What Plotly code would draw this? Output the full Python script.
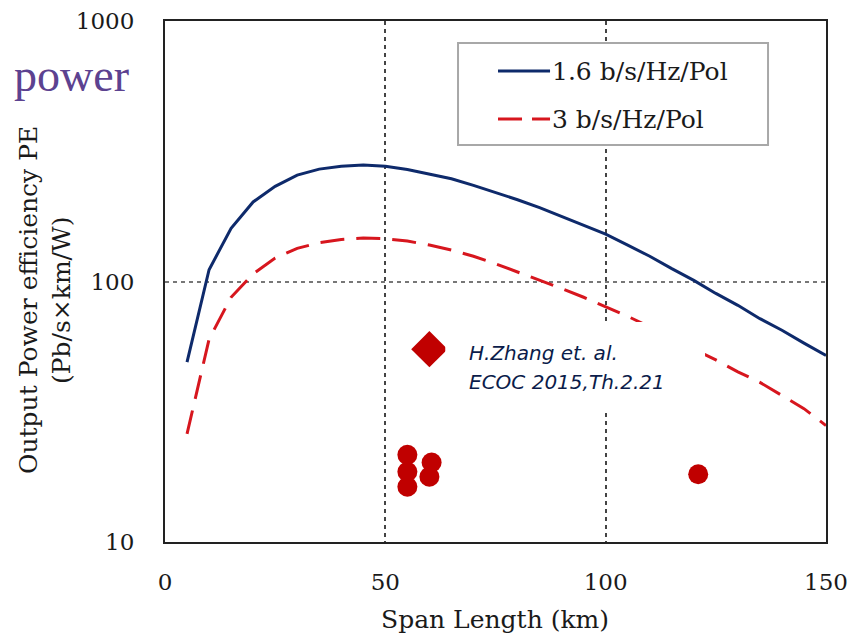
import plotly.graph_objects as go

# Span length grid (km) and simulated output power efficiency (Pb/s x km/W)
span_km = [5, 10, 15, 20, 25, 30, 35, 40, 45, 50, 55, 60, 65, 70, 75,
           80, 85, 90, 95, 100, 105, 110, 115, 120, 125, 130, 135, 140, 145, 150]
pe_16 = [49, 111, 160, 202, 232, 256, 270, 277, 280, 277, 269, 259, 248, 234, 220,
         206, 192, 178, 164, 152, 138, 125, 112, 101, 90, 81, 72, 65, 58, 52]
pe_3 = [26, 60, 87, 107, 123, 134, 141, 145, 147, 146, 143, 138, 132, 125, 117,
        109, 101, 94, 87, 80, 73.5, 67, 61, 55, 50, 45, 41, 36.5, 32.5, 28]

# Reported result (H.Zhang et al.)
zhang_x = [60]
zhang_y = [55]

# Other experimental points
exp_x = [55, 55, 55, 60.5, 60, 121]
exp_y = [21.6, 18.6, 16.3, 20.2, 17.8, 18.2]

legend_labels = ["1.6 b/s/Hz/Pol", "3 b/s/Hz/Pol"]

BLUE = "#0E2A6B"
RED_LINE = "#D7161E"
RED_MARK = "#C00000"
SERIF = "DejaVu Serif"
TXT = "#1A1A1A"

fig = go.Figure()
fig.add_trace(go.Scatter(x=span_km, y=pe_16, mode="lines",
                         line=dict(color=BLUE, width=3), name=legend_labels[0]))
fig.add_trace(go.Scatter(x=span_km, y=pe_3, mode="lines",
                         line=dict(color=RED_LINE, width=3, dash="24px,12px"),
                         name=legend_labels[1]))
fig.add_trace(go.Scatter(x=zhang_x, y=zhang_y, mode="markers",
                         marker=dict(symbol="diamond", size=28, color=RED_MARK)))
fig.add_trace(go.Scatter(x=exp_x, y=exp_y, mode="markers",
                         marker=dict(symbol="circle", size=20, color=RED_MARK)))

axis_common = dict(
    showline=True, mirror=True, linecolor="#222222", linewidth=2,
    ticks="", zeroline=False, automargin=False,
    tickfont=dict(family=SERIF, size=23, color=TXT),
)

fig.update_xaxes(range=[0, 150], tickvals=[0, 50, 100, 150],
                 showgrid=True, gridcolor="#444444", gridwidth=1.5,
                 griddash="4px,4px", ticklabelstandoff=18, **axis_common)
fig.update_yaxes(type="log", range=[1, 3], tickvals=[10, 100, 1000],
                 ticktext=["10", "100", "1000"],
                 showgrid=True, gridcolor="#777777", gridwidth=1.5,
                 griddash="4px,4px", ticklabelstandoff=24, **axis_common)

# white panel behind the citation text
shapes = [
    dict(type="rect", xref="paper", yref="paper",
         x0=0.424, x1=0.817, y0=0.2476, y1=0.4223,
         fillcolor="white", line=dict(width=0), layer="above"),
    # legend frame
    dict(type="rect", xref="paper", yref="paper",
         x0=0.4433, x1=0.9123, y0=0.762, y1=0.9578,
         fillcolor="white", line=dict(color="#A8A8A8", width=2), layer="above"),
    dict(type="line", xref="paper", yref="paper",
         x0=0.5038, x1=0.5825, y0=0.904, y1=0.904,
         line=dict(color=BLUE, width=3), layer="above"),
    dict(type="line", xref="paper", yref="paper",
         x0=0.5038, x1=0.5825, y0=0.8119, y1=0.8119,
         line=dict(color=RED_LINE, width=3, dash="24px,10px"), layer="above"),
]

annotations = [
    dict(text=legend_labels[0], xref="paper", yref="paper", x=0.5825, y=0.904,
         xanchor="left", yanchor="middle", showarrow=False,
         font=dict(family=SERIF, size=25, color=TXT)),
    dict(text=legend_labels[1], xref="paper", yref="paper", x=0.5825, y=0.8119,
         xanchor="left", yanchor="middle", showarrow=False,
         font=dict(family=SERIF, size=25, color=TXT)),
    dict(text="<i>H.Zhang et. al.</i>", xref="paper", yref="paper", x=0.4569, y=0.3628,
         xanchor="left", yanchor="middle", showarrow=False,
         font=dict(family="DejaVu Sans", size=20, color="#0B1C4A")),
    dict(text="<i>ECOC 2015,Th.2.21</i>", xref="paper", yref="paper", x=0.4569, y=0.3071,
         xanchor="left", yanchor="middle", showarrow=False,
         font=dict(family="DejaVu Sans", size=20, color="#0B1C4A")),
    dict(text="Output Power efficiency PE", xref="paper", yref="paper",
         x=-0.2057, y=0.4645, textangle=-90, xanchor="center", yanchor="middle",
         showarrow=False, font=dict(family=SERIF, size=25, color=TXT)),
    dict(text="(Pb/s×km/W)", xref="paper", yref="paper",
         x=-0.1558, y=0.4645, textangle=-90, xanchor="center", yanchor="middle",
         showarrow=False, font=dict(family=SERIF, size=25, color=TXT)),
    dict(text="Span Length (km)", xref="paper", yref="paper",
         x=0.4999, y=-0.1493, xanchor="center", yanchor="middle",
         showarrow=False, font=dict(family=SERIF, size=25, color=TXT)),
    dict(text="power", xref="paper", yref="paper",
         x=-0.1407, y=0.896, xanchor="center", yanchor="middle",
         showarrow=False, font=dict(family="Liberation Serif", size=46, color="#5C4290")),
]

fig.update_layout(
    width=850, height=638,
    margin=dict(l=165, r=24, t=21, b=96),
    plot_bgcolor="white", paper_bgcolor="white",
    showlegend=False,
    shapes=shapes, annotations=annotations,
)

fig.write_html("out.html")
